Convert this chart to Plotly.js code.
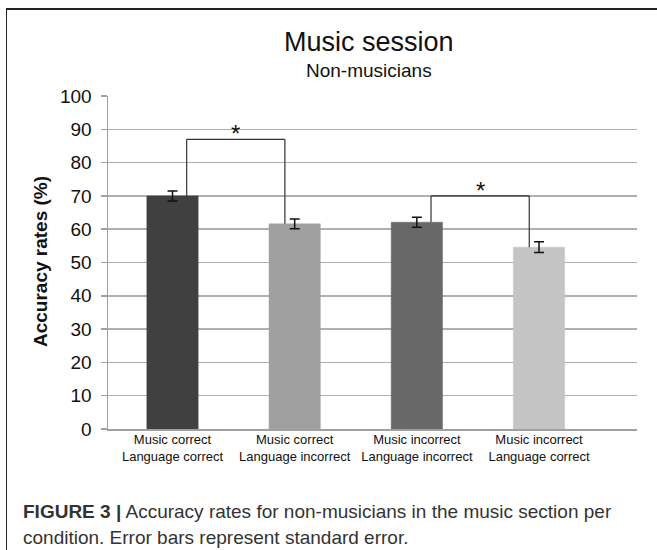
<!DOCTYPE html>
<html>
<head>
<meta charset="utf-8">
<script src="https://cdn.plot.ly/plotly-3.0.1.min.js"></script>
<style>
  html, body { margin: 0; padding: 0; background: #fff; }
  #wrap { position: relative; width: 657px; height: 550px; overflow: hidden; }
  #frame { position: absolute; left: 6px; top: 8px; width: 700px; height: 600px;
           border-top: 2px solid #222; border-left: 1.5px solid #222; pointer-events: none; }
  #chart { position: absolute; left: 0; top: 0; width: 657px; height: 550px; }
</style>
</head>
<body>
<div id="wrap">
  <div id="chart"></div>
  <div id="frame"></div>
</div>
<script>
// ---- data ----
const categories = [
  "Music correct<br>Language correct",
  "Music correct<br>Language incorrect",
  "Music incorrect<br>Language incorrect",
  "Music incorrect<br>Language correct"
];
const accuracy = [70.0, 61.6, 62.1, 54.6];
const stdError = [1.5, 1.5, 1.5, 1.6];
const barColors = ["#404040", "#a0a0a0", "#686868", "#c4c4c4"];
const yTicks = [0, 10, 20, 30, 40, 50, 60, 70, 80, 90, 100];
// significance brackets: pair of bar indices and bracket height (%)
const bracketPairs = [[0, 1], [2, 3]];
const bracketHeights = [87, 70];
const bracketLabels = ["*", "*"];

const xpos = categories.map((_, i) => i);

const trace = {
  type: "bar",
  x: xpos,
  y: accuracy,
  width: 0.42,
  marker: { color: barColors, line: { color: barColors, width: 0.5 } },
  error_y: { type: "data", array: stdError, visible: true, color: "#111", thickness: 1.5, width: 5 },
  hoverinfo: "y"
};

const shapes = [];
const annotations = [];
bracketPairs.forEach((p, k) => {
  const xl = p[0] + 0.116, xr = p[1] - 0.08;
  const yt = bracketHeights[k];
  const line = { color: "#333", width: 1.2 };
  shapes.push({ type: "line", xref: "x", yref: "y", x0: xl, x1: xl, y0: accuracy[p[0]], y1: yt, line });
  shapes.push({ type: "line", xref: "x", yref: "y", x0: xl, x1: xr, y0: yt, y1: yt, line });
  shapes.push({ type: "line", xref: "x", yref: "y", x0: xr, x1: xr, y0: yt, y1: accuracy[p[1]], line });
  annotations.push({ xref: "x", yref: "y", x: (xl + xr) / 2, y: yt, yanchor: "bottom", yshift: -10,
    text: bracketLabels[k], showarrow: false, font: { family: "Liberation Sans, Arial", size: 24, color: "#111" } });
});

const L = 108, R = 637, T = 96, B = 429, W = R - L, H = B - T;
const px = v => (v - L) / W, py = v => (B - v) / H;

annotations.push(
  { xref: "paper", yref: "paper", x: px(369), y: py(42), text: "Music session", showarrow: false,
    xanchor: "center", yanchor: "middle", font: { family: "Liberation Sans, Arial", size: 27, color: "#111" } },
  { xref: "paper", yref: "paper", x: px(369), y: py(70), text: "Non-musicians", showarrow: false,
    xanchor: "center", yanchor: "middle", font: { family: "Liberation Sans, Arial", size: 19, color: "#111" } },
  { xref: "paper", yref: "paper", x: px(40), y: py(262), text: "<b>Accuracy rates (%)</b>", showarrow: false,
    textangle: -90, xanchor: "center", yanchor: "middle", font: { family: "Liberation Sans, Arial", size: 19, color: "#111" } },
  { xref: "paper", yref: "paper", x: px(21), y: py(511), text: "<b>FIGURE 3 |</b> Accuracy rates for non-musicians in the music section per",
    showarrow: false, xanchor: "left", yanchor: "middle", align: "left", font: { family: "Liberation Sans, Arial", size: 19, color: "#333" } },
  { xref: "paper", yref: "paper", x: px(21), y: py(537), text: "condition. Error bars represent standard error.",
    showarrow: false, xanchor: "left", yanchor: "middle", align: "left", font: { family: "Liberation Sans, Arial", size: 19, color: "#333" } }
);

const layout = {
  width: 657, height: 550,
  margin: { l: L, r: 657 - R, t: T, b: 550 - B, pad: 0 },
  paper_bgcolor: "#fff", plot_bgcolor: "#fff",
  showlegend: false,
  xaxis: {
    range: [-0.528, 3.802], tickmode: "array", tickvals: xpos, ticktext: categories,
    showgrid: false, zeroline: false, showline: true, linecolor: "#a0a0a0", linewidth: 1.5,
    ticks: "", ticklabelstandoff: -2,
    tickfont: { family: "Liberation Sans, Arial", size: 13, color: "#111" }, fixedrange: true
  },
  yaxis: {
    range: [0, 100], tickmode: "array", tickvals: yTicks, showgrid: true, gridcolor: "#b0b0b0", gridwidth: 1.5,
    zeroline: false, showline: true, linecolor: "#a0a0a0", linewidth: 1.5, ticks: "outside", ticklen: 6,
    tickcolor: "#a0a0a0", tickwidth: 1.5, ticklabelstandoff: 5,
    tickfont: { family: "Liberation Sans, Arial", size: 19, color: "#111" }, fixedrange: true
  },
  shapes, annotations
};

Plotly.newPlot("chart", [trace], layout, { displayModeBar: false, staticPlot: true });
</script>
</body>
</html>
